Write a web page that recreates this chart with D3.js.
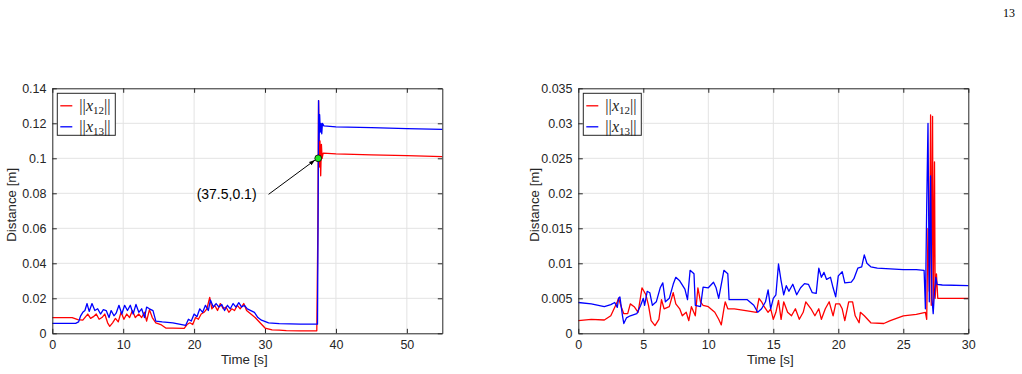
<!DOCTYPE html>
<html>
<head>
<meta charset="utf-8">
<script src="https://cdn.jsdelivr.net/npm/d3@7"></script>
<style>
  body { margin: 0; background: #fff; }
  svg { display: block; }
  .tick text { font-family: "Liberation Sans", Arial, sans-serif; font-size: 12.5px; fill: #262626; }
</style>
</head>
<body>
<div id="chart"></div>
<script>
// -----------------------------
// DATA
// [time s, distance m]
// -----------------------------
const leftX12 = [[0,0.009],[2.8,0.009],[3.6,0.0078],[4.3,0.0075],[5,0.011],[5.4,0.0085],[5.8,0.0095],[6.2,0.011],[6.6,0.008],[7,0.009],[7.4,0.011],[7.8,0.006],[8.1,0.004],[8.5,0.006],[8.9,0.0085],[9.3,0.0065],[9.7,0.012],[10.1,0.008],[10.5,0.011],[10.9,0.009],[11.3,0.013],[11.7,0.009],[12.2,0.011],[12.6,0.009],[13,0.012],[13.3,0.007],[13.7,0.0135],[14.1,0.009],[14.6,0.006],[15.3,0.005],[16,0.003],[17,0.003],[18.6,0.0028],[19,0.005],[19.4,0.006],[19.8,0.005],[20.2,0.009],[20.6,0.008],[21,0.011],[21.4,0.012],[21.8,0.014],[22.2,0.0205],[22.5,0.014],[22.9,0.016],[23.3,0.013],[23.7,0.017],[24.1,0.014],[24.5,0.015],[24.9,0.012],[25.3,0.014],[25.7,0.013],[26.1,0.016],[26.5,0.014],[27,0.017],[27.4,0.013],[28,0.011],[28.6,0.009],[29.3,0.006],[30,0.003],[31,0.002],[32,0.0018],[33,0.0015],[35,0.0014],[37.3,0.0014],[37.45,0.06],[37.55,0.133],[37.65,0.095],[37.75,0.11],[37.85,0.09],[37.95,0.108],[38.05,0.1],[38.2,0.103],[40,0.1025],[45,0.102],[50,0.1015],[55,0.101]];

const leftX13 = [[0,0.0057],[3.3,0.0057],[3.7,0.0065],[4,0.01],[4.3,0.012],[4.6,0.013],[4.9,0.017],[5.2,0.0125],[5.6,0.017],[6,0.013],[6.4,0.014],[6.8,0.011],[7.2,0.0135],[7.6,0.013],[8,0.009],[8.3,0.013],[8.7,0.01],[9,0.0115],[9.4,0.016],[9.8,0.011],[10.2,0.016],[10.6,0.013],[11,0.016],[11.4,0.011],[11.8,0.0165],[12.2,0.012],[12.6,0.014],[13,0.009],[13.3,0.015],[13.7,0.014],[14.2,0.013],[14.6,0.007],[15.5,0.0065],[17,0.006],[18.8,0.0045],[19.2,0.008],[19.6,0.007],[20,0.011],[20.4,0.0095],[20.8,0.014],[21.2,0.012],[21.6,0.016],[22,0.013],[22.3,0.019],[22.7,0.015],[23.1,0.017],[23.5,0.015],[23.9,0.0165],[24.3,0.013],[24.7,0.016],[25.1,0.014],[25.5,0.017],[25.9,0.015],[26.3,0.0175],[26.7,0.015],[27.1,0.016],[27.5,0.014],[28,0.013],[28.5,0.012],[29,0.009],[29.5,0.0075],[30.5,0.006],[32,0.0055],[35,0.0052],[37.4,0.0052],[37.5,0.08],[37.55,0.133],[37.62,0.11],[37.7,0.125],[37.8,0.115],[37.9,0.12],[38,0.114],[38.1,0.12],[38.3,0.1185],[40,0.118],[45,0.1175],[50,0.117],[55,0.1165]];

const rightX12 = [[0,0.0018],[1,0.002],[2,0.0019],[2.5,0.0025],[3,0.0045],[3.1,0.005],[3.3,0.0038],[3.5,0.0028],[3.8,0.0028],[4,0.0042],[4.3,0.0038],[4.6,0.003],[4.9,0.0065],[5.2,0.0055],[5.4,0.004],[5.6,0.0018],[5.9,0.0011],[6.2,0.002],[6.4,0.0048],[6.6,0.0035],[7,0.0038],[7.3,0.0058],[7.5,0.0042],[7.8,0.0035],[8,0.0025],[8.3,0.003],[8.5,0.0018],[8.7,0.0038],[9,0.0025],[9.2,0.0065],[9.4,0.0045],[9.6,0.004],[10,0.0038],[10.5,0.003],[10.8,0.002],[11,0.0012],[11.2,0.0035],[11.3,0.0045],[11.5,0.0035],[12,0.0035],[13,0.0032],[13.7,0.003],[13.9,0.005],[14.1,0.0045],[14.3,0.0038],[14.6,0.003],[14.8,0.0035],[15,0.002],[15.2,0.003],[15.4,0.0047],[15.6,0.002],[15.8,0.0045],[16.1,0.003],[16.4,0.0025],[16.7,0.0035],[17,0.002],[17.3,0.003],[17.5,0.0045],[17.9,0.0035],[18.2,0.0025],[18.5,0.0035],[18.7,0.002],[19,0.0035],[19.3,0.0045],[19.6,0.0025],[19.8,0.0042],[20.1,0.0042],[20.3,0.0035],[20.5,0.0018],[20.8,0.0045],[21.1,0.0045],[21.3,0.0025],[21.6,0.0015],[21.7,0.003],[22,0.0025],[22.5,0.0015],[23.5,0.0014],[24,0.0018],[25,0.0025],[26,0.0027],[26.7,0.003],[26.8,0.002],[26.9,0.015],[27,0.006],[27.1,0.0312],[27.15,0.004],[27.25,0.031],[27.3,0.004],[27.4,0.0245],[27.45,0.005],[27.55,0.0085],[27.65,0.005],[30,0.005]];

const rightX13 = [[0,0.0044],[1,0.0042],[2,0.0038],[2.5,0.0041],[2.8,0.0044],[3,0.0037],[3.1,0.005],[3.2,0.0052],[3.4,0.0025],[3.5,0.0014],[3.7,0.0022],[4,0.0025],[4.5,0.0028],[4.8,0.004],[5,0.005],[5.1,0.004],[5.3,0.006],[5.5,0.0058],[5.7,0.004],[6,0.0045],[6.3,0.0065],[6.5,0.0072],[6.7,0.0045],[7,0.005],[7.3,0.007],[7.5,0.008],[7.8,0.0075],[8.2,0.0063],[8.4,0.0048],[8.6,0.009],[8.9,0.0085],[9,0.004],[9.4,0.0038],[9.6,0.0066],[10,0.0065],[10.4,0.0073],[10.6,0.0065],[10.8,0.005],[11.2,0.009],[11.5,0.0085],[11.6,0.0048],[12,0.0048],[13,0.0048],[13.5,0.004],[13.8,0.003],[14.1,0.0035],[14.4,0.0045],[14.6,0.0062],[14.8,0.0035],[15,0.005],[15.2,0.0055],[15.4,0.0099],[15.6,0.0075],[15.8,0.0055],[16,0.0068],[16.2,0.006],[16.5,0.007],[16.8,0.0055],[17.1,0.0065],[17.4,0.0071],[17.7,0.007],[18,0.0058],[18.3,0.0057],[18.5,0.0093],[18.7,0.008],[18.9,0.0087],[19.1,0.0077],[19.4,0.008],[19.6,0.0065],[19.8,0.0052],[20,0.0082],[20.3,0.0088],[20.5,0.0072],[21,0.0073],[21.2,0.0078],[21.5,0.0093],[21.8,0.0095],[22,0.0112],[22.2,0.01],[22.5,0.0095],[23,0.0093],[24,0.0092],[25,0.0091],[26,0.0091],[26.6,0.009],[26.7,0.0035],[26.8,0.018],[26.9,0.03],[27,0.0045],[27.1,0.0225],[27.2,0.005],[27.3,0.0028],[27.4,0.006],[27.5,0.008],[27.6,0.007],[28,0.0069],[30,0.0068]];

// tick values + labels (MATLAB style, trailing zeros stripped)
const leftXTicks = [0, 10, 20, 30, 40, 50];
const leftYTicks = [0, 0.02, 0.04, 0.06, 0.08, 0.1, 0.12, 0.14];
const leftYLabels = ["0", "0.02", "0.04", "0.06", "0.08", "0.1", "0.12", "0.14"];
const rightXTicks = [0, 5, 10, 15, 20, 25, 30];
const rightYTicks = [0, 0.005, 0.01, 0.015, 0.02, 0.025, 0.03, 0.035];
const rightYLabels = ["0", "0.005", "0.01", "0.015", "0.02", "0.025", "0.03", "0.035"];

// data tip on the left panel: the point, and where the label/arrow tail sit
const tipPoint = [37.5, 0.1];
const tipLabel = "(37.5,0.1)";
const tipTail = [30.5, 0.0794];
const tipHead = [37.05, 0.099];

const seriesNames = ["x12", "x13"];
const seriesColors = ["#ff0000", "#0000ff"];

// -----------------------------
// SVG CONTAINER
// -----------------------------
const W = 1022, H = 374;
const svg = d3.select("#chart").append("svg")
    .attr("width", W)
    .attr("height", H);

svg.append("defs").append("marker")
    .attr("id", "arrow")
    .attr("viewBox", "0 0 10 10")
    .attr("refX", 10).attr("refY", 5)
    .attr("markerWidth", 6).attr("markerHeight", 6)
    .attr("orient", "auto")
    .append("path")
    .attr("d", "M0,1.5 L10,5 L0,8.5 Z")
    .attr("fill", "#000");

// page number
svg.append("text")
    .attr("x", 1015).attr("y", 17)
    .attr("text-anchor", "end")
    .style("font-family", "'Liberation Serif', 'Times New Roman', serif")
    .style("font-size", "12px")
    .text("13");

// -----------------------------
// ONE PANEL (axes box, grid, lines, legend)
// -----------------------------
const drawPanel = (cfg) => {
    const innerWidth = 390;
    const innerHeight = 245;
    const axisColor = "#262626";

    const g = svg.append("g")
        .attr("transform", `translate(${cfg.left}, ${cfg.top})`);

    const x = d3.scaleLinear().domain(cfg.xDomain).range([0, innerWidth]);
    const y = d3.scaleLinear().domain(cfg.yDomain).range([innerHeight, 0]);

    // grid (skip lines that sit on the box)
    g.append("g").selectAll("line")
        .data(cfg.xTicks.filter(d => d > cfg.xDomain[0] && d < cfg.xDomain[1]))
        .join("line")
        .attr("x1", d => x(d)).attr("x2", d => x(d))
        .attr("y1", 0).attr("y2", innerHeight)
        .attr("stroke", "#e3e3e3").attr("stroke-width", 1);

    g.append("g").selectAll("line")
        .data(cfg.yTicks.filter(d => d > cfg.yDomain[0] && d < cfg.yDomain[1]))
        .join("line")
        .attr("x1", 0).attr("x2", innerWidth)
        .attr("y1", d => y(d)).attr("y2", d => y(d))
        .attr("stroke", "#e3e3e3").attr("stroke-width", 1);

    // lines
    const line = d3.line().x(d => x(d[0])).y(d => y(d[1]));
    cfg.series.forEach((s, i) => {
        g.append("path")
            .datum(s)
            .attr("fill", "none")
            .attr("stroke", seriesColors[i])
            .attr("stroke-width", 1.3)
            .attr("stroke-linejoin", "round")
            .attr("d", line);
    });

    // axes (ticks pointing inward)
    const tick = 4.5;
    const styleAxis = sel => {
        sel.select(".domain").attr("stroke", axisColor);
        sel.selectAll(".tick line").attr("stroke", axisColor);
    };

    g.append("g")
        .attr("transform", `translate(0,${innerHeight})`)
        .call(d3.axisBottom(x).tickValues(cfg.xTicks).tickSize(-tick).tickSizeOuter(0).tickPadding(6.5).tickFormat(d3.format("d")))
        .call(styleAxis)
        .call(a => a.attr("font-family", null).attr("font-size", null));

    g.append("g")
        .call(d3.axisLeft(y).tickValues(cfg.yTicks).tickSize(-tick).tickSizeOuter(0).tickPadding(5.8)
            .tickFormat((d, i) => cfg.yLabels[i]))
        .call(styleAxis)
        .call(a => a.attr("font-family", null).attr("font-size", null));

    g.append("g")
        .call(d3.axisTop(x).tickValues(cfg.xTicks).tickSize(-tick).tickSizeOuter(0).tickFormat(""))
        .call(styleAxis);

    g.append("g")
        .attr("transform", `translate(${innerWidth},0)`)
        .call(d3.axisRight(y).tickValues(cfg.yTicks).tickSize(-tick).tickSizeOuter(0).tickFormat(""))
        .call(styleAxis);

    // axis labels
    g.append("text")
        .attr("x", innerWidth / 2 - 3)
        .attr("y", innerHeight + 31)
        .attr("text-anchor", "middle")
        .attr("fill", axisColor)
        .style("font-family", "'Liberation Sans', Arial, sans-serif")
        .style("font-size", "13.3px")
        .text("Time [s]");

    g.append("text")
        .attr("transform", `rotate(-90)`)
        .attr("x", -innerHeight / 2 + 6)
        .attr("y", cfg.yLabelX)
        .attr("text-anchor", "middle")
        .attr("fill", axisColor)
        .style("font-family", "'Liberation Sans', Arial, sans-serif")
        .style("font-size", "13.3px")
        .text("Distance [m]");

    // legend
    const lg = g.append("g").attr("transform", "translate(5,5)");
    lg.append("rect")
        .attr("width", cfg.legendW).attr("height", 42)
        .attr("fill", "#fff")
        .attr("stroke", axisColor).attr("stroke-width", 1);

    seriesNames.forEach((name, i) => {
        const cy = 12.5 + i * 21;
        lg.append("line")
            .attr("x1", 3).attr("x2", 15)
            .attr("y1", cy).attr("y2", cy)
            .attr("stroke", seriesColors[i]).attr("stroke-width", 1.3);
        const t = lg.append("text")
            .attr("x", 22).attr("y", cy + 5)
            .style("font-family", "'Liberation Serif', serif")
            .attr("fill", "#222");
        t.append("tspan").style("font-size", "16.5px").text("||");
        t.append("tspan").style("font-style", "italic").style("font-size", "16px").text("x");
        t.append("tspan").attr("dy", 3).style("font-size", "11px").text(name.slice(1));
        t.append("tspan").attr("dy", -3).style("font-size", "16.5px").text("||");
    });

    return { g, x, y };
};

// -----------------------------
// LEFT PANEL
// -----------------------------
const left = drawPanel({
    left: 52.3, top: 88.3,
    xDomain: [0, 55], yDomain: [0, 0.14],
    xTicks: leftXTicks, yTicks: leftYTicks, yLabels: leftYLabels,
    series: [leftX12, leftX13],
    yLabelX: -36, legendW: 58
});

// data tip: arrow + label + green marker
left.g.append("line")
    .attr("x1", left.x(tipTail[0])).attr("y1", left.y(tipTail[1]))
    .attr("x2", left.x(tipHead[0])).attr("y2", left.y(tipHead[1]))
    .attr("stroke", "#000").attr("stroke-width", 1)
    .attr("marker-end", "url(#arrow)");

left.g.append("text")
    .attr("x", left.x(tipTail[0]) - 12)
    .attr("y", left.y(tipTail[1]) + 5)
    .attr("text-anchor", "end")
    .style("font-family", "'Liberation Sans', Arial, sans-serif")
    .style("font-size", "14px")
    .attr("fill", "#000")
    .text(tipLabel);

left.g.append("circle")
    .attr("cx", left.x(tipPoint[0])).attr("cy", left.y(tipPoint[1]))
    .attr("r", 3.4)
    .attr("fill", "#22e622")
    .attr("stroke", "#000").attr("stroke-width", 0.8);

// -----------------------------
// RIGHT PANEL
// -----------------------------
drawPanel({
    left: 578.3, top: 88.3,
    xDomain: [0, 30], yDomain: [0, 0.035],
    xTicks: rightXTicks, yTicks: rightYTicks, yLabels: rightYLabels,
    series: [rightX12, rightX13],
    yLabelX: -39, legendW: 58
});
</script>
</body>
</html>
